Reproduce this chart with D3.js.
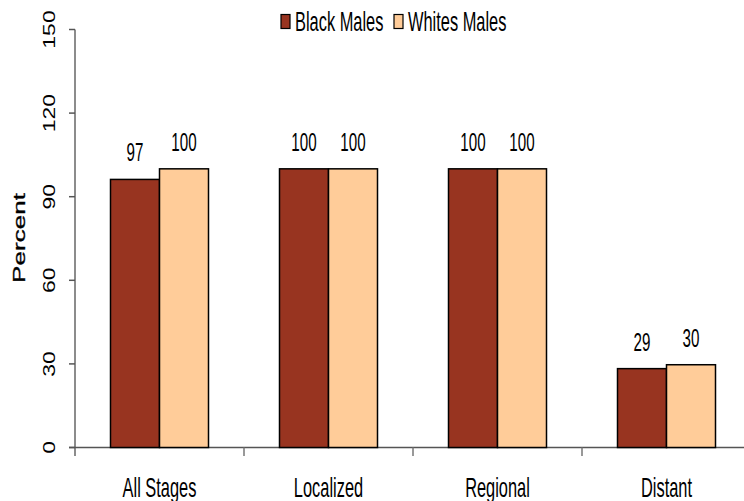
<!DOCTYPE html>
<html>
<head>
<meta charset="utf-8">
<script src="https://cdn.jsdelivr.net/npm/d3@7"></script>
<style>
  body { margin: 0; background: #fff; }
  text { font-family: "Liberation Sans", Arial, sans-serif; fill: #000; }
</style>
</head>
<body>
<svg id="grafico" width="744" height="501"></svg>
<script>
// dados do grafico
var categorias = ["All Stages", "Localized", "Regional", "Distant"];
var series = ["Black Males", "Whites Males"];
var valoresNegros = [96.2, 100, 100, 28.3];
var valoresBrancos = [100, 100, 100, 29.7];
var rotulosNegros = ["97", "100", "100", "29"];
var rotulosBrancos = ["100", "100", "100", "30"];
var ticksY = [0, 30, 60, 90, 120, 150];

var cores = ["#983420", "#FFCC99"];
var ESTICA = 1.35; // a figura original esta esticada na vertical

var svg = d3.select("#grafico");

var x = d3.scaleBand().domain(categorias).range([75, 751]);
var xSerie = d3.scaleBand().domain(series).range([35.5, 133.5]);
var y = d3.scaleLinear().domain([0, 150]).range([447.5, 29.5]);

// texto com escala (narrow + esticado)
function texto(g, px, py, s, tam, sx, sy, ancora) {
    return g.append("text")
        .attr("transform", "translate(" + px + "," + py + ") scale(" + sx + "," + sy + ")")
        .attr("text-anchor", ancora || "middle")
        .style("font-size", tam + "px")
        .text(s);
}

// eixo Y
var eixoY = svg.append("g");
eixoY.append("line")
    .attr("x1", 75).attr("x2", 75)
    .attr("y1", y(150)).attr("y2", 456)
    .attr("stroke", "#8c8c8c").attr("stroke-width", 2);
ticksY.forEach(function(t) {
    eixoY.append("line")
        .attr("x1", 69).attr("x2", 75)
        .attr("y1", y(t)).attr("y2", y(t))
        .attr("stroke", "#555").attr("stroke-width", 1.5);
    eixoY.append("text")
        .attr("transform", "translate(55," + y(t) + ") rotate(-90) scale(" + ESTICA + ",1)")
        .attr("text-anchor", "middle")
        .style("font-size", "17px")
        .text(t);
});
eixoY.append("text")
    .attr("transform", "translate(25,238) rotate(-90) scale(1.63,1)")
    .attr("text-anchor", "middle")
    .style("font-size", "16px")
    .style("stroke", "#000").style("stroke-width", 0.3)
    .text("Percent");

// eixo X
var eixoX = svg.append("g");
eixoX.append("line")
    .attr("x1", 69).attr("x2", 744)
    .attr("y1", y(0)).attr("y2", y(0))
    .attr("stroke", "#555").attr("stroke-width", 1.5);
categorias.forEach(function(c, i) {
    if (i > 0) {
        eixoX.append("line")
            .attr("x1", x(c)).attr("x2", x(c))
            .attr("y1", y(0)).attr("y2", 456)
            .attr("stroke", "#777").attr("stroke-width", 1.5);
    }
    texto(eixoX, x(c) + x.bandwidth() / 2, 497, c, 20, 0.82, ESTICA);
});

// barras
var grupos = svg.selectAll(".grupo")
    .data(categorias)
    .enter().append("g")
    .attr("class", "grupo")
    .attr("transform", function(d) { return "translate(" + x(d) + ",0)"; });

[valoresNegros, valoresBrancos].forEach(function(vals, s) {
    var rotulos = s == 0 ? rotulosNegros : rotulosBrancos;
    grupos.append("rect")
        .attr("x", xSerie(series[s]))
        .attr("y", function(d, i) { return y(vals[i]); })
        .attr("width", xSerie.bandwidth())
        .attr("height", function(d, i) { return y(0) - y(vals[i]); })
        .attr("fill", cores[s])
        .attr("stroke", "#000")
        .attr("stroke-width", 1.5);
    grupos.each(function(d, i) {
        texto(d3.select(this), xSerie(series[s]) + xSerie.bandwidth() / 2, y(vals[i]) - 18,
            rotulos[i], 18.5, 0.82, 1.4);
    });
});

// legenda
var legenda = svg.append("g");
var posLegenda = [281, 394];
series.forEach(function(s, i) {
    legenda.append("rect")
        .attr("x", posLegenda[i]).attr("y", 14.5)
        .attr("width", 9).attr("height", 14)
        .attr("fill", cores[i]).attr("stroke", "#000").attr("stroke-width", 1.2);
    texto(legenda, posLegenda[i] + 14, 31, s, 20, 0.82, ESTICA, "start");
});
</script>
</body>
</html>
